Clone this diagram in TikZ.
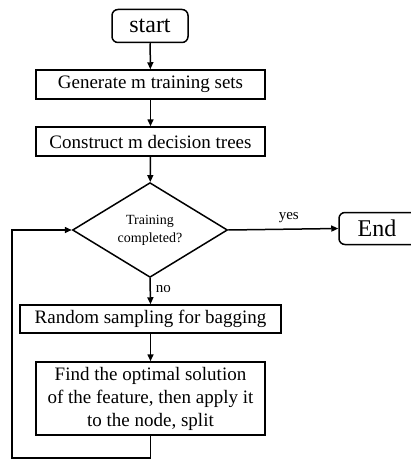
\documentclass[tikz,border=0pt]{standalone}
\usepackage{fontspec}
\setmainfont{Liberation Serif}
\usetikzlibrary{arrows.meta,shapes.geometric}
\begin{document}
\begin{tikzpicture}[x=1pt,y=-1pt,
  line width=1.5pt,
  arr/.style={-{Triangle[length=7pt,width=6pt]}},
  proc/.style={draw,rectangle,inner sep=0pt,minimum width=229pt,minimum height=29pt,font=\fontsize{19}{23}\selectfont,align=center},
  term/.style={draw,rectangle,rounded corners=6pt,inner sep=0pt,minimum width=76pt,minimum height=33pt,font=\fontsize{24}{28}\selectfont},
  dec/.style={draw,diamond,inner sep=0pt,minimum width=155pt,minimum height=76pt,font=\fontsize{14}{17}\selectfont,align=center},
  lbl/.style={font=\fontsize{15}{18}\selectfont,inner sep=0pt}]
\useasboundingbox (0,0) rectangle (410,460);
\node[term] (start) at (150,26) {start};
\node[proc] (gen) at (150.5,84.5) {Generate m training sets};
\node[proc] (cons) at (150.5,141.5) {Construct m decision trees};
\node[dec] (dec) at (150,230) {Training\\[1pt]completed?};
\node[term,minimum width=82pt,minimum height=32pt] (end) at (380,228.5) {\hspace*{-6pt}End};
\node[proc,minimum width=261pt,minimum height=28pt] (rand) at (150.5,319) {Random sampling for bagging};
\node[proc,minimum height=73pt] (find) at (150.5,398.5) {Find the optimal solution\\of the feature, then apply it\\to the node, split};
\coordinate (lb) at (12,458);
\draw[arr] (start) -- (gen);
\draw[arr] (gen) -- (cons);
\draw[arr] (cons) -- (dec);
\draw[arr] (dec.east) -- (end.west) node[lbl,pos=0.55,above=6pt] {yes};
\draw[arr] (dec.south) -- (rand.north) node[lbl,pos=0.4,right=5pt] {no};
\draw[arr] (rand) -- (find);
\draw[arr] (find.south) |- (lb) |- (dec.west);
\end{tikzpicture}
\end{document}
